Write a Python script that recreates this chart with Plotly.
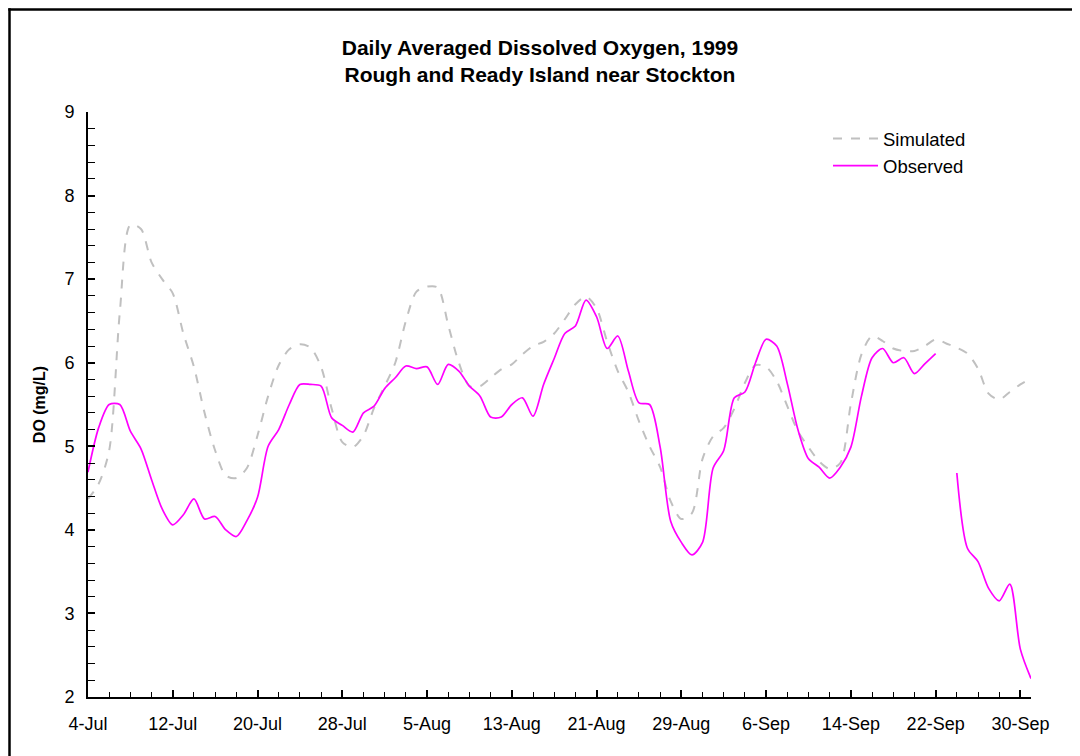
import plotly.graph_objects as go
import pandas as pd

start_date = "1999-07-04"
n_days = 90
dates = pd.date_range(start_date, periods=n_days, freq="D")

simulated = [
    4.37, 4.55, 4.95, 6.60, 7.65, 7.60, 7.20, 7.00, 6.83, 6.35,
    5.95, 5.40, 4.95, 4.65, 4.62, 4.74, 5.13, 5.60, 5.97, 6.16,
    6.22, 6.18, 5.95, 5.45, 5.05, 4.99, 5.13, 5.46, 5.72, 6.00,
    6.50, 6.85, 6.91, 6.90, 6.45, 6.00, 5.72, 5.72, 5.82, 5.92,
    5.98, 6.10, 6.20, 6.25, 6.35, 6.52, 6.70, 6.79, 6.65, 6.25,
    5.90, 5.65, 5.30, 5.00, 4.75, 4.34, 4.13, 4.20, 4.85, 5.12,
    5.22, 5.45, 5.76, 5.97, 5.95, 5.78, 5.48, 5.18, 4.99, 4.82,
    4.73, 4.80, 5.51, 6.10, 6.32, 6.26, 6.17, 6.14, 6.14, 6.20,
    6.28, 6.23, 6.18, 6.11, 5.93, 5.63, 5.56, 5.65, 5.74, 5.81,
]

observed = [
    4.69, 5.22, 5.50, 5.50, 5.18, 4.97, 4.60, 4.25, 4.06, 4.18,
    4.37, 4.13, 4.16, 4.00, 3.92, 4.11, 4.39, 5.00, 5.20, 5.50,
    5.74, 5.74, 5.72, 5.34, 5.25, 5.17, 5.40, 5.48, 5.69, 5.82,
    5.96, 5.93, 5.95, 5.74, 5.98, 5.90, 5.72, 5.60, 5.35, 5.35,
    5.50, 5.58, 5.36, 5.74, 6.05, 6.35, 6.44, 6.75, 6.55, 6.17,
    6.32, 5.90, 5.52, 5.50, 4.99, 4.10, 3.85, 3.70, 3.85, 4.74,
    4.95, 5.58, 5.65, 6.00, 6.28, 6.20, 5.75, 5.20, 4.85, 4.75,
    4.62, 4.75, 4.99, 5.60, 6.06, 6.17, 6.00, 6.06, 5.87, 5.99,
    6.11, None, 4.68, 3.78, 3.62, 3.30, 3.15, 3.35, 2.57, 2.22,
]

title_text = "Daily Averaged Dissolved Oxygen, 1999<br>Rough and Ready Island near Stockton"
y_title = "DO (mg/L)"

FONT = "Liberation Sans, Arial, sans-serif"

fig = go.Figure()
fig.add_trace(go.Scatter(
    x=dates, y=simulated, name="Simulated", mode="lines",
    line=dict(color="#c0c0c0", width=2, dash="dash", shape="spline", smoothing=0.8),
))
fig.add_trace(go.Scatter(
    x=dates, y=observed, name="Observed", mode="lines", connectgaps=False,
    line=dict(color="#ff00ff", width=1.7, shape="spline", smoothing=0.8),
))

# page has an 8px body margin; plot area targeted at page px 88..1031 x 112..697
W, H = 1080, 756
OFF = 8
PL, PR, PT, PB = 88, 1031, 112, 697
L, R, T, B = PL - OFF, W + OFF - PR, PT - OFF, H + OFF - PB
pw, ph = PR - PL, PB - PT

def px_x(p):
    return (p - PL) / pw

def px_y(p):
    return (PB - p) / ph

frame = dict(color="black", width=2.5)
fig.update_layout(
    width=W, height=H,
    margin=dict(l=L, r=R, t=T, b=B),
    paper_bgcolor="white", plot_bgcolor="white",
    font=dict(family=FONT, size=18, color="black"),
    title=dict(text=title_text, x=(540 - OFF) / W, xanchor="center", y=1 - 47 / H, yanchor="top",
               font=dict(family=FONT, size=21, color="black", weight="bold"),
               automargin=False),
    showlegend=True,
    legend=dict(x=px_x(828), y=px_y(120), xanchor="left", yanchor="top",
                bgcolor="rgba(0,0,0,0)", font=dict(size=18.5), tracegroupgap=0,
                itemwidth=45),
    shapes=[
        dict(type="line", xref="paper", yref="paper",
             x0=px_x(8.3), x1=px_x(1100), y0=px_y(9.5), y1=px_y(9.5), line=frame, layer="below"),
        dict(type="line", xref="paper", yref="paper",
             x0=px_x(9.5), x1=px_x(9.5), y0=px_y(8.3), y1=px_y(780), line=frame, layer="below"),
    ],
)

fig.update_xaxes(
    type="date",
    range=["1999-07-04", "1999-10-01"],
    tick0="1999-07-04", dtick=8 * 86400000,
    tickformat="%-d-%b",
    showgrid=False, zeroline=False,
    showline=True, linecolor="black", linewidth=2,
    ticks="inside", ticklen=7, tickwidth=1.5, tickcolor="black",
    minor=dict(dtick=2 * 86400000, tick0="1999-07-04", ticks="inside", ticklen=5,
               tickwidth=1.2, tickcolor="black", showgrid=False),
    tickfont=dict(size=18),
    ticklabelstandoff=9,
)
fig.update_yaxes(
    range=[2, 9], dtick=1, tick0=2,
    showgrid=False, zeroline=False,
    showline=True, linecolor="black", linewidth=2,
    ticks="inside", ticklen=7, tickwidth=1.5, tickcolor="black",
    minor=dict(dtick=0.2, ticks="inside", ticklen=7, tickwidth=1.2, tickcolor="black", showgrid=False),
    tickfont=dict(size=18),
    ticklabelstandoff=8,
    title=dict(text=y_title, font=dict(size=16, weight="bold"), standoff=15),
)

fig.write_html("out.html")
